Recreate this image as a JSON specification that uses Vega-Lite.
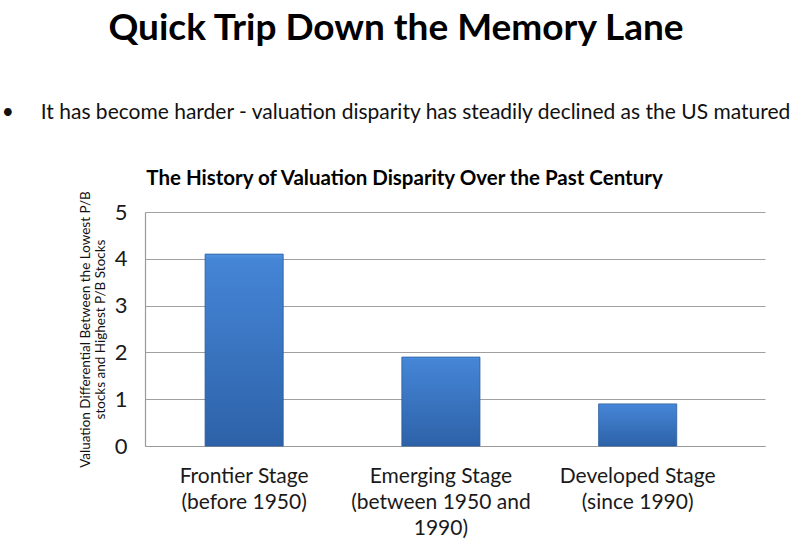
{
  "$schema": "https://vega.github.io/schema/vega-lite/v6.json",
  "autosize": {"type": "none"},
  "padding": {"left": 145, "top": 212, "right": 35, "bottom": 104},
  "width": 620,
  "height": 234,
  "background": "white",
  "config": {
    "font": "Lato",
    "view": {"stroke": null}
  },
  "title": {
    "text": "Quick Trip Down the Memory Lane",
    "subtitle": "•\u00a0\u00a0\u00a0\u00a0 It has become harder - valuation disparity has steadily declined as the US matured",
    "anchor": "middle",
    "frame": "group",
    "dx": -59,
    "fontSize": 37,
    "fontWeight": "bold",
    "color": "#000000",
    "font": "Lato",
    "subtitleFont": "Lato",
    "subtitleFontSize": 21,
    "subtitleColor": "#111111",
    "subtitlePadding": 54,
    "offset": 44
  },
  "data": {
    "values": [
      {"stage": "Frontier Stage|(before 1950)", "value": 4.1},
      {"stage": "Emerging Stage|(between 1950 and|1990)", "value": 1.9},
      {"stage": "Developed Stage|(since 1990)", "value": 0.9}
    ]
  },
  "layer": [
    {
      "mark": {
        "type": "bar",
        "color": {
          "gradient": "linear",
          "x1": 0, "y1": 0, "x2": 0, "y2": 1,
          "stops": [
            {"offset": 0, "color": "#5092e0"},
            {"offset": 0.03, "color": "#4585d6"},
            {"offset": 1, "color": "#2d62a8"}
          ]
        },
        "stroke": "#2a5a9c",
        "strokeWidth": 0.8
      },
      "encoding": {
        "x": {
          "field": "stage",
          "type": "nominal",
          "sort": null,
          "scale": {"paddingInner": 0.603, "paddingOuter": 0.377, "align": 0.405},
          "axis": {
            "orient": "bottom",
            "title": null,
            "labelAngle": 0,
            "labelExpr": "split(datum.label, '|')",
            "labelFontSize": 21,
            "labelColor": "#1a1a1a",
            "labelLineHeight": 26,
            "labelPadding": 19,
            "labelLimit": 300,
            "ticks": false,
            "domain": true,
            "domainColor": "#9a9a9a",
            "domainWidth": 1.2
          }
        },
        "y": {
          "field": "value",
          "type": "quantitative",
          "scale": {"domain": [0, 5]},
          "axis": {
            "values": [0, 1, 2, 3, 4, 5],
            "title": ["Valuation Differential Between the Lowest P/B", "stocks and Highest P/B Stocks"],
            "titleFontSize": 13.5,
            "titleFontWeight": "normal",
            "titleColor": "#111111",
            "titleLineHeight": 15,
            "titleX": -60,
            "titleY": 117,
            "titleAnchor": null,
            "titleBaseline": "middle",
            "labelFontSize": 22,
            "labelColor": "#1a1a1a",
            "labelPadding": 18,
            "ticks": false,
            "domain": true,
            "domainColor": "#9a9a9a",
            "domainWidth": 1.2,
            "grid": true,
            "gridColor": "#a0a0a0",
            "gridWidth": 1.2
          }
        }
      }
    },
    {
      "mark": {"type": "tick", "opacity": 0},
      "encoding": {
        "x": {
          "field": "stage",
          "type": "nominal",
          "sort": null,
          "axis": {
            "orient": "top",
            "title": "The History of Valuation Disparity Over the Past Century",
            "titleFontSize": 20.5,
            "titleFontWeight": "bold",
            "titleColor": "#000000",
            "titleX": 259,
            "titleY": -34,
            "titleAlign": "center",
            "titleBaseline": "middle",
            "labels": false,
            "ticks": false,
            "domain": false,
            "grid": false
          }
        },
        "y": {"field": "value", "type": "quantitative"}
      }
    }
  ],
  "resolve": {"axis": {"x": "independent"}}
}
